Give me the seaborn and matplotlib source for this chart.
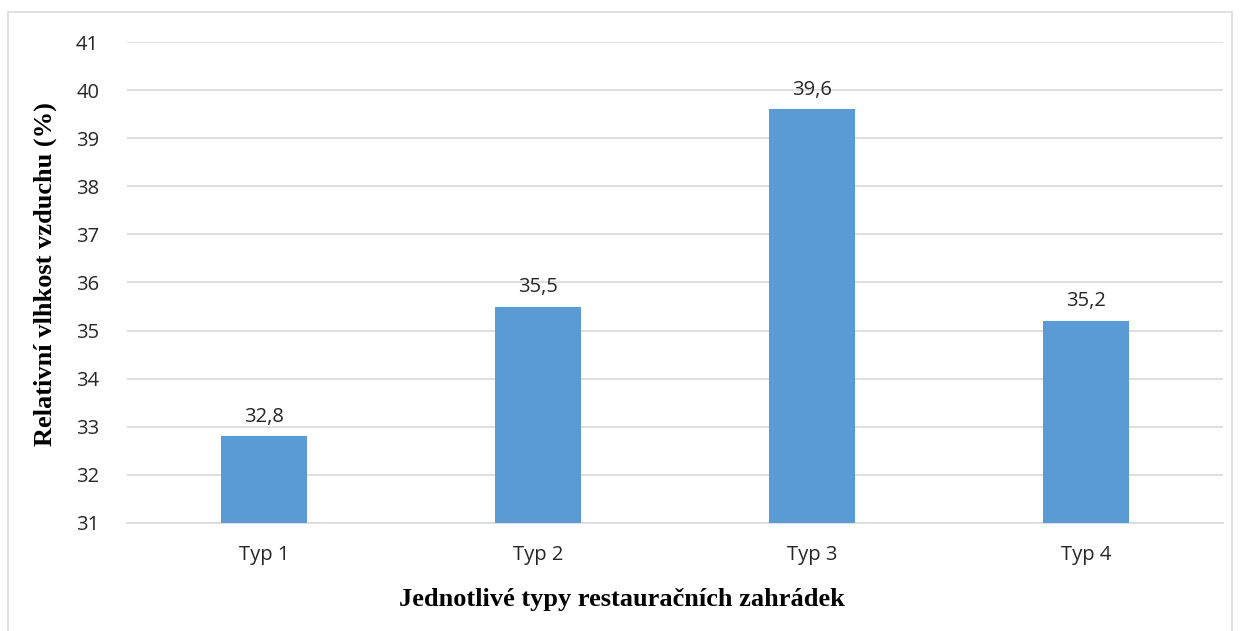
import matplotlib
matplotlib.use("Agg")
import matplotlib.pyplot as plt
import seaborn as sns
import pandas as pd
from matplotlib.patches import Rectangle

categories = ["Typ 1", "Typ 2", "Typ 3", "Typ 4"]
values = [32.8, 35.5, 39.6, 35.2]
value_labels = ["32,8", "35,5", "39,6", "35,2"]
y_ticks = list(range(31, 42))

sns.set_theme(style="white")
plt.rcParams["font.family"] = ["Open Sans", "DejaVu Sans"]

df = pd.DataFrame({"typ": categories, "hodnota": values})

fig = plt.figure(figsize=(12.41, 6.31), dpi=100)
ax = fig.add_axes([0.1023, 0.1712, 0.8832, 0.7622])

sns.barplot(data=df, x="typ", y="hodnota", color="#5B9BD5", saturation=1,
            width=0.315, ax=ax, zorder=3)
for p in ax.patches:
    p.set_edgecolor("none")

tick_fs = 14.5
ax.set_ylim(31, 41)
ax.set_yticks(y_ticks)
ax.set_yticklabels([str(t) for t in y_ticks], fontsize=tick_fs, color="#262626")
ax.set_xticks(range(len(categories)))
ax.set_xticklabels(categories, fontsize=tick_fs, color="#262626")
ax.tick_params(axis="both", length=0)
ax.tick_params(axis="y", pad=20)
ax.tick_params(axis="x", pad=16)
ax.set_xlim(-0.5, len(categories) - 0.5)

ax.yaxis.grid(True, color="#d9d9d9", linewidth=1.2, zorder=0)
ax.xaxis.grid(False)
for side in ["top", "right", "left"]:
    ax.spines[side].set_visible(False)
ax.spines["bottom"].set_color("#d9d9d9")
ax.spines["bottom"].set_linewidth(1.2)

for i, (v, lab) in enumerate(zip(values, value_labels)):
    ax.annotate(lab, xy=(i, v), xytext=(0, 7), textcoords="offset points",
                ha="center", va="bottom", fontsize=tick_fs, color="#262626")

ax.set_xlabel("Jednotlivé typy restauračních zahrádek", family="Liberation Serif",
              fontweight="bold", fontsize=19, color="black")
ax.set_ylabel("Relativní vlhkost vzduchu (%)", family="Liberation Serif",
              fontweight="bold", fontsize=19, color="black")
# axis titles are centred on the whole chart rather than on the plot area
ax.xaxis.set_label_coords(0.4516, -0.16)
ax.xaxis.label.set_va("center")
ax.yaxis.set_label_coords(-0.0748, 0.518)
ax.yaxis.label.set_va("center")

# outer frame of the chart area
fig.patches.append(Rectangle((8 / 1241, -0.01), (1232 - 8) / 1241, 1 - 12 / 631 + 0.01,
                             transform=fig.transFigure, fill=False,
                             edgecolor="#d9d9d9", linewidth=1.2))

fig.savefig("out.png", dpi=100, facecolor="white")
